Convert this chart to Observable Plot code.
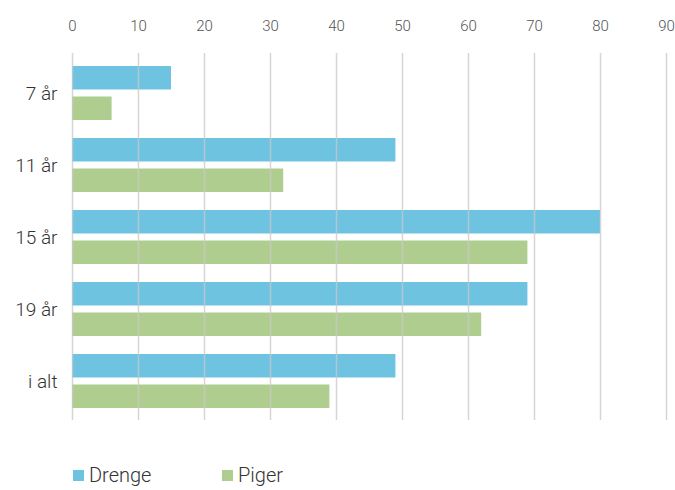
<!DOCTYPE html>
<html>
<head>
<meta charset="utf-8">
<script src="https://cdn.jsdelivr.net/npm/d3@7"></script>
<script src="https://cdn.jsdelivr.net/npm/@observablehq/plot@0.6"></script>
<style>
  body { margin: 0; background: #fff; font-family: Roboto, "Liberation Sans Narrow", sans-serif; }
  #chart svg { display: block; }
  .legend { margin-top: 23px; height: 24px; position: relative; font-size: 20px; color: #333; line-height: 24px; font-weight: 300; }
  .legend span.item { position: absolute; top: 0; display: flex; align-items: center; }
  .legend span.sw { display: inline-block; width: 11px; height: 11px; margin-right: 5px; }
</style>
</head>
<body>
<div id="chart"></div>
<div class="legend">
  <span class="item" style="left:73px"><span class="sw" style="background:#6ec3e1"></span>Drenge</span>
  <span class="item" style="left:222px"><span class="sw" style="background:#b0cd90"></span>Piger</span>
</div>
<script>
const categories = ["7 år", "11 år", "15 år", "19 år", "i alt"];
const drenge = [15, 49, 80, 69, 49];
const piger = [6, 32, 69, 62, 39];
const xTicks = [0, 10, 20, 30, 40, 50, 60, 70, 80, 90];

const dataD = categories.map((c, i) => ({cat: c, value: drenge[i]}));
const dataP = categories.map((c, i) => ({cat: c, value: piger[i]}));

const chart = Plot.plot({
  width: 675,
  height: 440,
  marginTop: 53,
  marginBottom: 20,
  marginLeft: 72,
  marginRight: 9,
  style: {fontFamily: 'Roboto, "Liberation Sans Narrow", sans-serif', fontWeight: 300, background: "#fff"},
  x: {domain: [0, 90], ticks: xTicks, axis: null, label: null},
  y: {domain: categories, paddingInner: 0.2534, paddingOuter: 0.1404, axis: null, label: null},
  marks: [
    Plot.barX(dataD, {y: "cat", x: "value", fill: "#6ec3e1", insetBottom: 30.5}),
    Plot.barX(dataP, {y: "cat", x: "value", fill: "#b0cd90", insetTop: 30.5}),
    Plot.ruleX(xTicks, {stroke: "#c8c8c8", strokeWidth: 1.5, strokeOpacity: 0.75}),
    Plot.axisX({anchor: "top", ticks: xTicks, tickSize: 0, tickPadding: 23, fontSize: 15, color: "#555", label: null, tickFormat: d => String(d)}),
    Plot.axisY({anchor: "left", tickSize: 0, tickPadding: 15, fontSize: 19, color: "#333", label: null})
  ]
});
document.getElementById("chart").appendChild(chart);
</script>
</body>
</html>
